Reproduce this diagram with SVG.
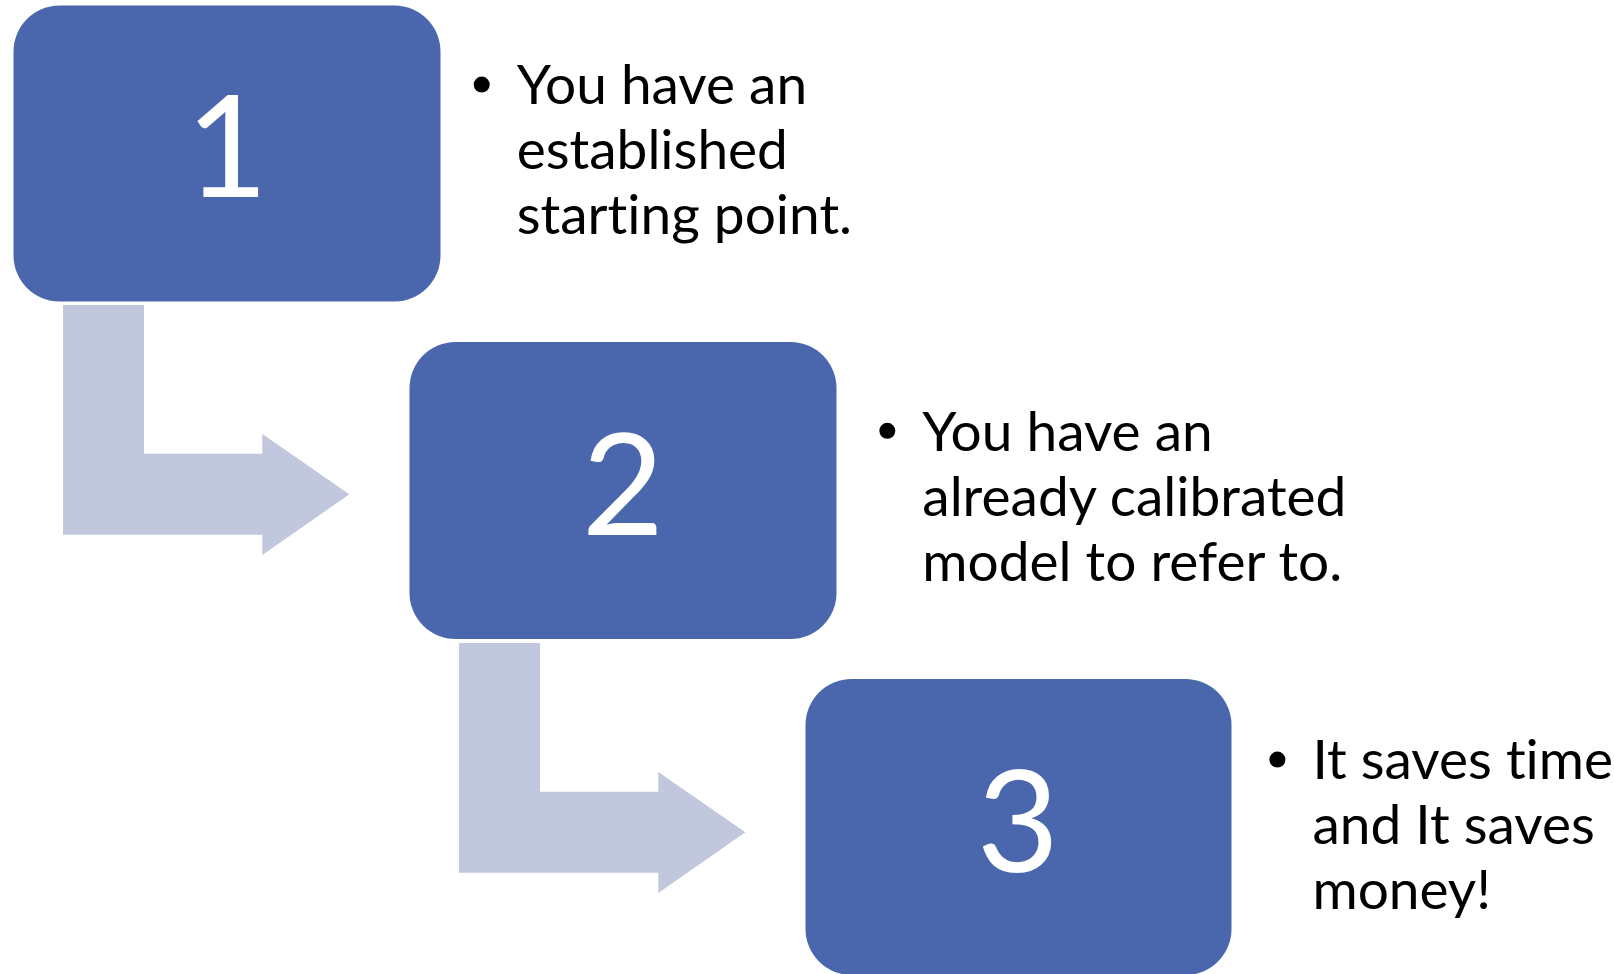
<svg xmlns="http://www.w3.org/2000/svg" width="1614" height="974" viewBox="0 0 1614 974">
<style>
.box{fill:#4A66AC}
.arrow{fill:#C1C7DC}
.num{font-family:Lato,"Liberation Sans",sans-serif;font-weight:400;font-size:142px;fill:#FFFFFF;text-anchor:middle}
.txt{font-family:Lato,"Liberation Sans",sans-serif;font-size:55px;fill:#000000;font-variant-ligatures:none;font-feature-settings:"liga" 0,"clig" 0,"dlig" 0}
.bul{fill:#000000}
</style>
<rect width="1614" height="974" fill="#FFFFFF"/>
<g id="connectors">
<path class="arrow" d="M63,305 H144 V453.7 H262.3 V434 L349.3,494.3 L262.3,555 V534.7 H63 Z"/>
<path class="arrow" d="M459,643 H540 V791.7 H658.3 V772 L745.3,832.3 L658.3,893 V872.7 H459 Z"/>
</g>
<g id="node1">
<rect class="box" x="13.5" y="5.5" width="427" height="296" rx="46" ry="46"/>
<text class="num" x="227" y="197">1</text>
</g>
<g id="node1-text">
<circle class="bul" cx="481.7" cy="84.6" r="8"/>
<text class="txt" x="516.7" y="104">You have an</text>
<text class="txt" x="516.7" y="168.8">established</text>
<text class="txt" x="516.7" y="233.7">starting point.</text>
</g>
<g id="node2">
<rect class="box" x="409.5" y="342" width="427" height="297" rx="46" ry="46"/>
<text class="num" x="623" y="535">2</text>
</g>
<g id="node2-text">
<circle class="bul" cx="887.3" cy="430.8" r="8"/>
<text class="txt" x="922.3" y="450.8">You have an</text>
<text class="txt" x="922.3" y="515.7">already calibrated</text>
<text class="txt" x="922.3" y="580.5">model to refer to.</text>
</g>
<g id="node3">
<rect class="box" x="805.5" y="679" width="426" height="296" rx="46" ry="46"/>
<text class="num" x="1018" y="872">3</text>
</g>
<g id="node3-text">
<circle class="bul" cx="1277.4" cy="759.6" r="8"/>
<text class="txt" x="1312.4" y="779.2">It saves time</text>
<text class="txt" x="1312.4" y="844">and It saves</text>
<text class="txt" x="1312.4" y="908.9">money!</text>
</g>
</svg>
